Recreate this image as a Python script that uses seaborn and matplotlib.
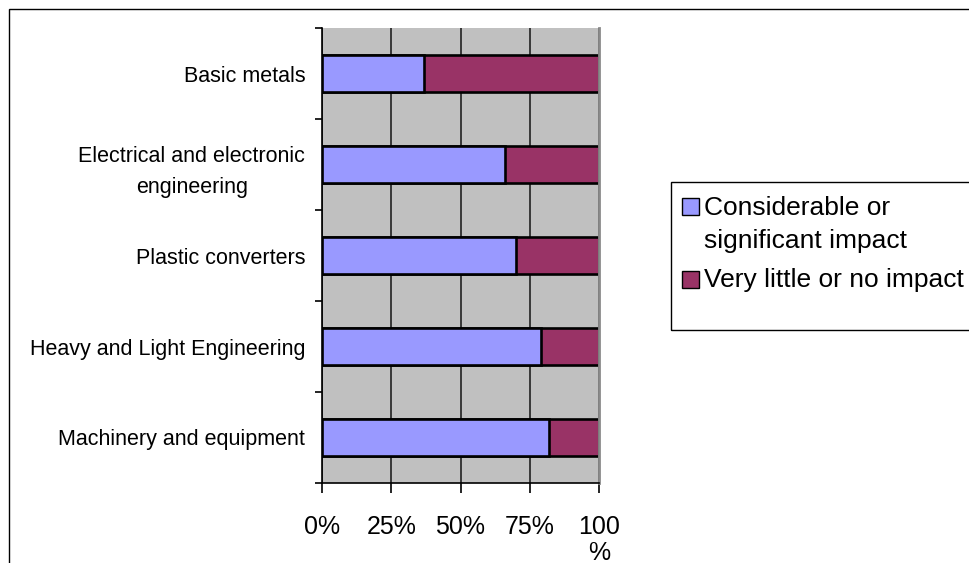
import matplotlib
matplotlib.use("Agg")
import matplotlib.pyplot as plt
from matplotlib.patches import Rectangle
import pandas as pd
import seaborn as sns

# Share of firms by sector reporting the impact level
sectors = [
    "Basic metals",
    "Electrical and electronic\nengineering",
    "Plastic converters",
    "Heavy and Light Engineering",
    "Machinery and equipment",
]
considerable = [37, 66, 70, 79, 82]
very_little = [63, 34, 30, 21, 18]
series_names = ["Considerable or\nsignificant impact", "Very little or no impact"]
x_ticks = [0, 25, 50, 75, 100]
x_tick_labels = ["0%", "25%", "50%", "75%", "100\n%"]

BLUE = "#9999FF"
MAROON = "#993366"

sns.set_theme(style="white")
plt.rcParams["font.family"] = ["Liberation Sans", "DejaVu Sans"]
plt.rcParams["text.color"] = "black"

df = pd.DataFrame({"sector": sectors, "considerable": considerable,
                   "very_little": very_little})
df["total"] = df["considerable"] + df["very_little"]

W, H = 969, 563
fig = plt.figure(figsize=(W / 100, H / 100), dpi=100)
ax = fig.add_axes([322 / W, 1 - 483 / H, 277 / W, 455 / H])
ax.set_facecolor("#C0C0C0")

# stacked bars: full length first, then the first segment over it
sns.barplot(data=df, x="total", y="sector", orient="h", color=MAROON,
            saturation=1, width=0.41, edgecolor="black", linewidth=1.9,
            errorbar=None, ax=ax)
sns.barplot(data=df, x="considerable", y="sector", orient="h", color=BLUE,
            saturation=1, width=0.41, edgecolor="black", linewidth=1.9,
            errorbar=None, ax=ax)

ax.set_xlim(0, 100)
ax.set_ylim(len(sectors) - 0.5, -0.5)
ax.set_xlabel("")
ax.set_ylabel("")

ax.set_axisbelow(True)
ax.xaxis.grid(True, color="#383838", linewidth=1.4)
ax.yaxis.grid(False)

ax.spines["top"].set_visible(False)
ax.spines["right"].set_color("#8a8a8a")
ax.spines["right"].set_linewidth(2)
for side in ("left", "bottom"):
    ax.spines[side].set_color("black")
    ax.spines[side].set_linewidth(1.2)

ax.set_xticks(x_ticks, x_tick_labels)
ax.tick_params(axis="x", bottom=True, length=7, width=1.2, color="black",
               direction="out", pad=16, labelsize=18, labelcolor="black")
for t in ax.get_xticklabels():
    t.set_multialignment("center")
    t.set_linespacing(1.12)

ax.set_yticks([i - 0.5 for i in range(len(sectors) + 1)], minor=True)
ax.tick_params(axis="y", which="minor", left=True, length=5, width=1.2,
               color="black", direction="out")
ax.tick_params(axis="y", which="major", left=False, length=0, pad=12,
               labelsize=15.5, labelcolor="black")
for t in ax.get_yticklabels():
    t.set_multialignment("center")
    t.set_linespacing(1.6)

# legend: colour keys and texts inside a framed box
def px(x, y):
    return x / W, 1 - y / H

legend_rows = [(series_names[0], BLUE, 198, 215), (series_names[1], MAROON, 271, 287)]
for label, colour, top, baseline in legend_rows:
    x0, y0 = px(682, top + 17)
    fig.add_artist(Rectangle((x0, y0), 17 / W, 17 / H, transform=fig.transFigure,
                             facecolor=colour, edgecolor="black", linewidth=1))
    lines = label.split("\n")
    for i, line in enumerate(lines):
        tx, ty = px(704, baseline + 33 * i)
        fig.text(tx, ty, line, fontsize=19, color="black",
                 ha="left", va="baseline")

fig.add_artist(Rectangle(px(671, 330), 0.5, (330 - 182) / H,
                         transform=fig.transFigure, fill=False,
                         edgecolor="black", linewidth=1))

# outer chart border
fig.add_artist(Rectangle((9 / W, -0.1), 1.0, 1.1 - 9 / H,
                         transform=fig.transFigure, fill=False,
                         edgecolor="black", linewidth=1))

fig.savefig("out.png", dpi=100)
